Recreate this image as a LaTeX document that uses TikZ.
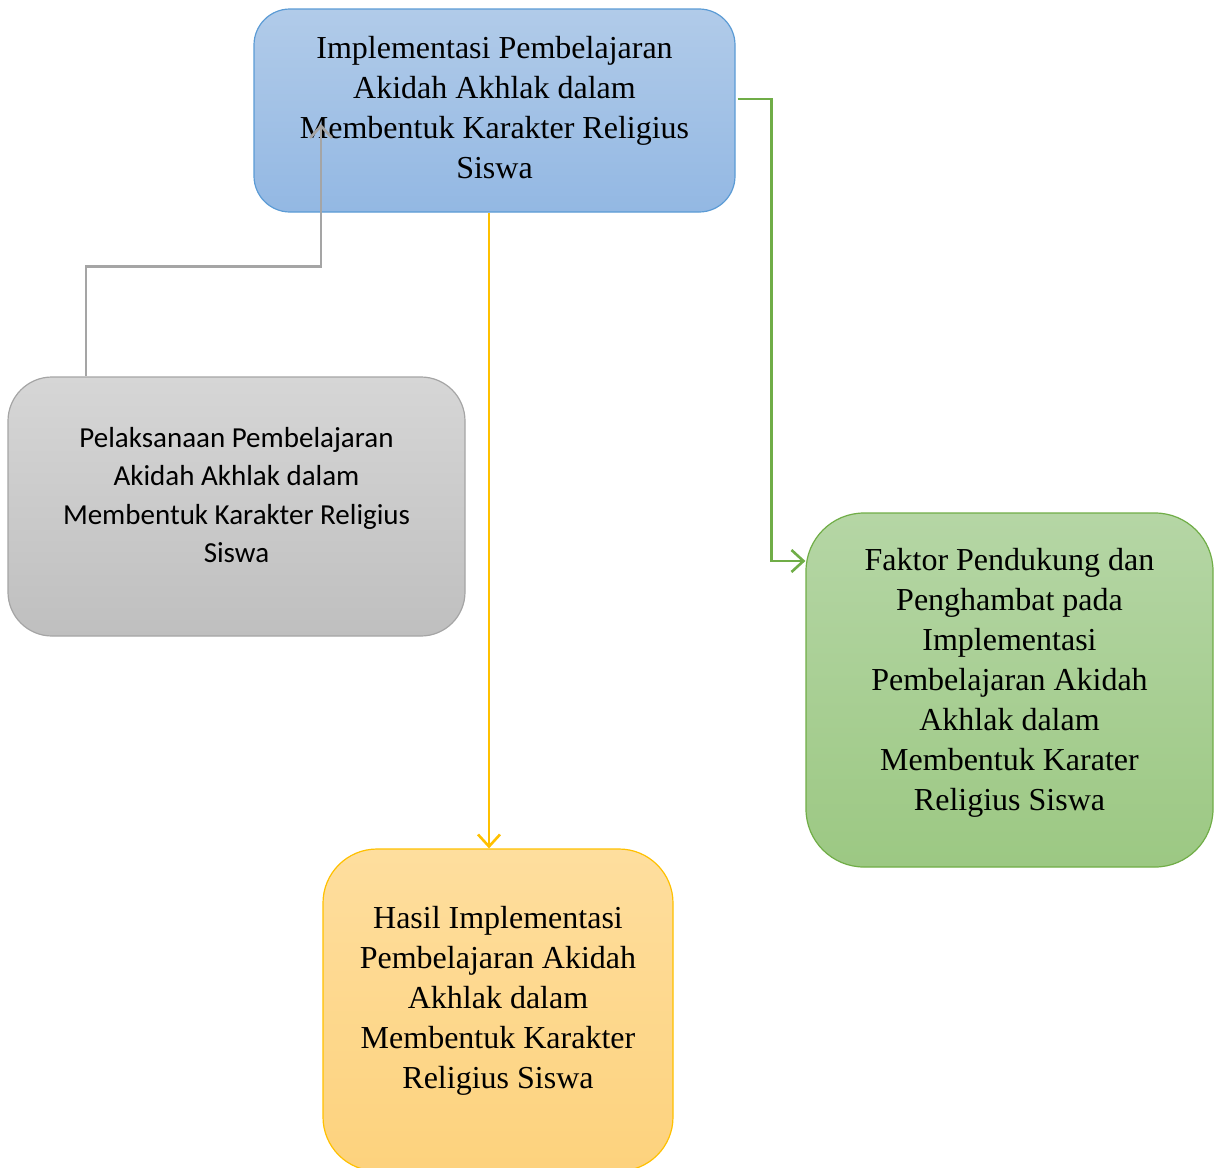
\documentclass[tikz,border=0pt]{standalone}
\usepackage{fontspec}
\setmainfont{Liberation Serif}
\newfontfamily\calfont{Carlito}
\usetikzlibrary{arrows.meta}
\definecolor{bluetop}{HTML}{B1CBE9}
\definecolor{bluebot}{HTML}{93B8E3}
\definecolor{blueline}{HTML}{5B9BD5}
\definecolor{graytop}{HTML}{D6D6D6}
\definecolor{graybot}{HTML}{BFBFBF}
\definecolor{grayline}{HTML}{A5A5A5}
\definecolor{greentop}{HTML}{B5D6A5}
\definecolor{greenbot}{HTML}{9CC883}
\definecolor{greenline}{HTML}{70AD47}
\definecolor{orangetop}{HTML}{FEDE9E}
\definecolor{orangebot}{HTML}{FDD27D}
\definecolor{orangeline}{HTML}{FFC000}
\tikzset{
  boxshape/.style={rectangle, line width=1.2pt, inner sep=0pt},
  serifbig/.style={font=\fontsize{32}{40}\selectfont, align=center},
  calbig/.style={font=\calfont\fontsize{29}{38.5}\selectfont, align=center},
  conn/.style={line width=2.6pt, -{Straight Barb[length=12pt,width=22pt]}},
}
\begin{document}
\begin{tikzpicture}[x=1pt,y=-1pt]
\useasboundingbox (0,0) rectangle (1214,1167);
% blue top box
\node[boxshape, rounded corners=36pt, draw=blueline, top color=bluetop, bottom color=bluebot,
  minimum width=481pt, minimum height=203pt,
  label={[name=btext, serifbig, yshift=3pt]center:Implementasi Pembelajaran\\Akidah Akhlak dalam\\Membentuk Karakter Religius\\Siswa}]
  (bbox) at (494.5,110.5) {};
% gray box
\node[boxshape, rounded corners=44pt, draw=grayline, top color=graytop, bottom color=graybot,
  minimum width=457pt, minimum height=259pt,
  label={[name=gtext, calbig, yshift=11.5pt]center:Pelaksanaan Pembelajaran\\Akidah Akhlak dalam\\Membentuk Karakter Religius\\Siswa}]
  (gbox) at (236.5,506.5) {};
% green box
\node[boxshape, rounded corners=58pt, draw=greenline, top color=greentop, bottom color=greenbot,
  minimum width=407pt, minimum height=354pt,
  label={[name=grtext, serifbig, yshift=7pt]center:Faktor Pendukung dan\\Penghambat pada\\Implementasi\\Pembelajaran Akidah\\Akhlak dalam\\Membentuk Karater\\Religius Siswa}]
  (grbox) at (1009.5,690) {};
% orange box
\node[boxshape, rounded corners=54pt, draw=orangeline, top color=orangetop, bottom color=orangebot,
  minimum width=350pt, minimum height=322pt,
  label={[name=otext, serifbig, yshift=9.5pt]center:Hasil Implementasi\\Pembelajaran Akidah\\Akhlak dalam\\Membentuk Karakter\\Religius Siswa}]
  (obox) at (498,1010) {};
% connectors
\coordinate (gtip) at (321,124);
\draw[conn, draw=grayline] ([xshift=-150.5pt]gbox.north) -- ++(0,-110) -| (gtip);
\draw[conn, draw=orangeline] ([xshift=-5.5pt]bbox.south) -- ([xshift=-5.5pt]bbox.south |- obox.north);
\draw[conn, draw=greenline] ([xshift=2pt,yshift=11.5pt]bbox.east) -- ++(34,0) |- ([yshift=129pt]grbox.west);
\end{tikzpicture}
\end{document}
